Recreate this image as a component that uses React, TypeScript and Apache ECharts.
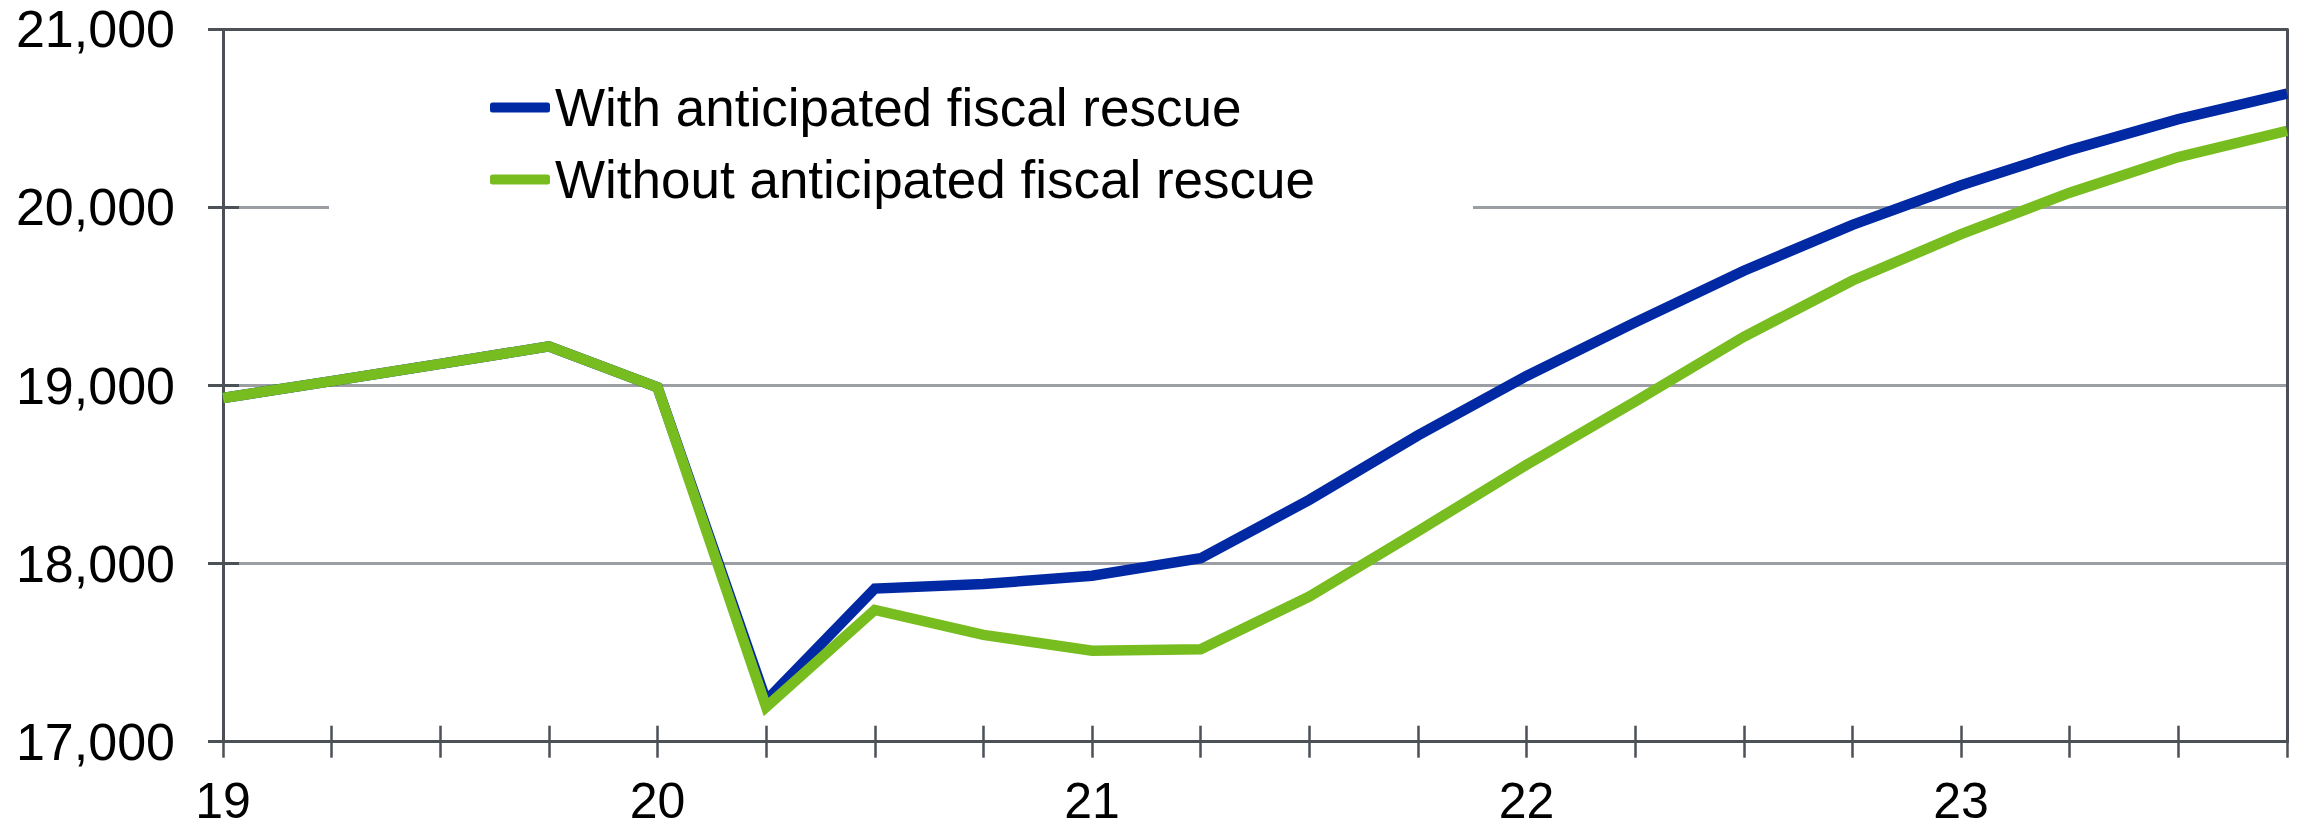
import React, { useEffect, useRef } from "react";
import * as echarts from "echarts";

const quarters: number[] = [
  19, 19.25, 19.5, 19.75, 20, 20.25, 20.5, 20.75, 21, 21.25, 21.5, 21.75,
  22, 22.25, 22.5, 22.75, 23, 23.25, 23.5, 23.75,
];
const yearLabels: string[] = ["19", "20", "21", "22", "23"];
const withRescue: number[] = [
  18930, 19025, 19122, 19220, 18990, 17230, 17860, 17885, 17932, 18030,
  18358, 18720, 19054, 19355, 19645, 19902, 20125, 20322, 20496, 20640,
];
const withoutRescue: number[] = [
  18930, 19025, 19122, 19220, 18990, 17195, 17740, 17600, 17511, 17519,
  17815, 18182, 18555, 18910, 19274, 19590, 19850, 20083, 20283, 20430,
];
const seriesNames: string[] = [
  "With anticipated fiscal rescue",
  "Without anticipated fiscal rescue",
];

const DARK = "#4b5157";
const GRID = "#9b9ea2";
const FONT = "'Liberation Sans', Arial, sans-serif";

export default function App() {
  const ref = useRef<HTMLDivElement>(null);
  useEffect(() => {
    if (!ref.current) return;
    const chart = echarts.init(ref.current, undefined, { renderer: "svg" });
    const xBase = {
      type: "value",
      min: 19,
      max: 23.75,
      interval: 0.25,
      gridIndex: 0,
      splitLine: { show: false },
    };
    const yBase = {
      type: "value",
      min: 17000,
      max: 21000,
      interval: 1000,
      gridIndex: 0,
    };
    chart.setOption({
      animation: false,
      textStyle: { fontFamily: FONT },
      grid: { left: 223, right: 16, top: 29.4, bottom: 86.3, containLabel: false },
      legend: {
        orient: "vertical",
        left: 485,
        top: 76,
        icon: "roundRect",
        itemWidth: 60,
        itemHeight: 10,
        itemGap: 19,
        textStyle: { fontSize: 53, color: "#000", fontFamily: FONT, lineHeight: 53 },
        data: seriesNames,
      },
      graphic: [
        {
          type: "rect",
          z: 3,
          shape: { x: 329, y: 198, width: 1144, height: 18 },
          style: { fill: "#fff" },
        },
      ],
      xAxis: [
        {
          ...xBase,
          position: "bottom",
          axisLine: { show: true, lineStyle: { color: DARK, width: 3 } },
          axisTick: { show: true, inside: false, length: 16, lineStyle: { color: DARK, width: 2.5 } },
          axisLabel: {
            show: true,
            fontSize: 50,
            color: "#000",
            fontFamily: FONT,
            margin: 34,
            formatter: (v: number) => {
              const idx = Math.round(v - 19);
              return Math.abs(v - Math.round(v)) < 1e-6 && yearLabels[idx] !== undefined
                ? yearLabels[idx]
                : "";
            },
          },
        },
        {
          ...xBase,
          position: "bottom",
          axisLine: { show: false },
          axisTick: { show: true, inside: true, length: 16, lineStyle: { color: DARK, width: 2.5 } },
          axisLabel: { show: false },
        },
        {
          ...xBase,
          position: "top",
          axisLine: { show: true, lineStyle: { color: DARK, width: 3 } },
          axisTick: { show: false },
          axisLabel: { show: false },
        },
      ],
      yAxis: [
        {
          ...yBase,
          position: "left",
          axisLine: { show: true, lineStyle: { color: DARK, width: 3 } },
          axisTick: { show: true, inside: false, length: 15, lineStyle: { color: DARK, width: 3 } },
          axisLabel: {
            show: true,
            fontSize: 52,
            color: "#000",
            fontFamily: FONT,
            margin: 48,
            formatter: (v: number) => v.toLocaleString("en-US"),
          },
          splitLine: { show: true, lineStyle: { color: GRID, width: 3 } },
        },
        {
          ...yBase,
          position: "left",
          axisLine: { show: false },
          axisTick: { show: true, inside: true, length: 16, lineStyle: { color: DARK, width: 3 } },
          axisLabel: { show: false },
          splitLine: { show: false },
        },
        {
          ...yBase,
          position: "right",
          axisLine: { show: true, lineStyle: { color: DARK, width: 3 } },
          axisTick: { show: false },
          axisLabel: { show: false },
          splitLine: { show: false },
        },
      ],
      series: [
        {
          name: seriesNames[0],
          type: "line",
          xAxisIndex: 0,
          yAxisIndex: 0,
          color: "#0029a3",
          showSymbol: false,
          lineStyle: { width: 10.5, color: "#0029a3", join: "miter" },
          itemStyle: { color: "#0029a3" },
          data: quarters.map((q, i) => [q, withRescue[i]]),
          z: 2,
        },
        {
          name: seriesNames[1],
          type: "line",
          xAxisIndex: 0,
          yAxisIndex: 0,
          color: "#78bd20",
          showSymbol: false,
          lineStyle: { width: 10.5, color: "#78bd20", join: "miter" },
          itemStyle: { color: "#78bd20" },
          data: quarters.map((q, i) => [q, withoutRescue[i]]),
          z: 2,
        },
      ],
    });
    return () => chart.dispose();
  }, []);
  return (
    <div
      ref={ref}
      style={{ position: "fixed", left: 0, top: 0, width: 2303, height: 828, background: "#fff" }}
    />
  );
}
